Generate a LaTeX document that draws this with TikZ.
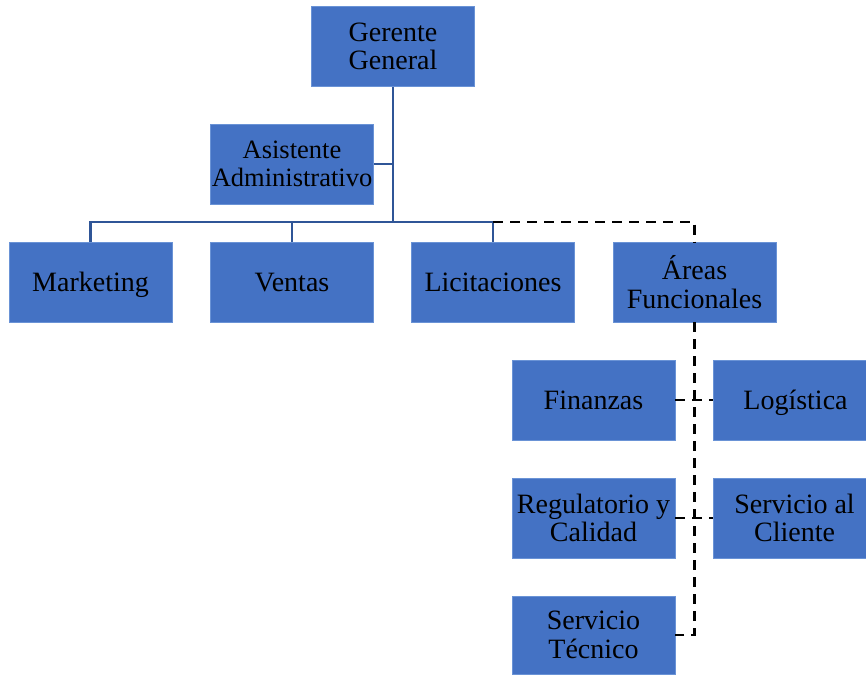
\documentclass[tikz,border=0pt]{standalone}
\usepackage{fontspec}
\setmainfont{Liberation Serif}
\begin{document}
\begin{tikzpicture}[x=1pt,y=-1pt,
  unit/.style={draw=boxedge,line width=0.8pt,fill=boxfill,minimum width=163pt,minimum height=80pt,
    inner sep=0pt,align=center,font=\fontsize{28}{28.5}\selectfont,text=black},
  oneline/.style={text height=24.5pt,text depth=6pt},
  solidlink/.style={draw=linkblue,line width=2.2pt},
  dashlink/.style={draw=black,line width=2.2pt,dash pattern=on 10pt off 7pt}]
\definecolor{boxfill}{HTML}{4472C4}
\definecolor{boxedge}{HTML}{6A93D6}
\definecolor{linkblue}{HTML}{2F5597}
\useasboundingbox[fill=white] (0,0) rectangle (866,674);
% boxes
\node[unit] (gg) at (393,46.5) {Gerente\\General};
\node[unit,font=\fontsize{26.5}{28.5}\selectfont] (aa) at (292,164) {Asistente\\Administrativo};
\node[unit,oneline] (mk) at (90.5,282) {Marketing};
\node[unit,oneline] (ve) at (292,282) {Ventas};
\node[unit,oneline] (li) at (493,282) {Licitaciones};
\node[unit] (af) at (694.5,282) {Áreas\\Funcionales};
\node[unit,oneline] (fi) at (593.5,400) {Finanzas};
\node[unit,oneline,minimum width=153pt,text width=153pt,xshift=0pt] (lo) at (789.5,400) {\hspace*{12pt}Logística};
\node[unit] (rc) at (593.5,518) {Regulatorio y\\Calidad};
\node[unit,minimum width=153pt] (sc) at (789.5,518) {\hspace*{10pt}Servicio al\\\hspace*{10pt}Cliente};
\node[unit,minimum height=78pt] (st) at (593.5,635) {Servicio\\Técnico};
% routing points
\coordinate (hub) at (gg.south |- 0,222);
\coordinate (spine) at (af.south |- 0,635);
% solid reporting lines
\draw[solidlink] (gg.south) -- (hub);
\draw[solidlink] (aa.east) -- (aa.east -| hub);
\draw[solidlink] (mk.north) |- (hub) -| (li.north);
\draw[solidlink] (ve.north) -- (ve.north |- hub);
% dashed lines to the functional areas
\draw[dashlink] (li.north |- hub) -| (af.north);
\draw[dashlink] (af.south) -- (spine) -- (st.east);
\draw[dashlink] (fi.east) -- (lo.west);
\draw[dashlink] (rc.east) -- (sc.west);
\end{tikzpicture}
\end{document}
